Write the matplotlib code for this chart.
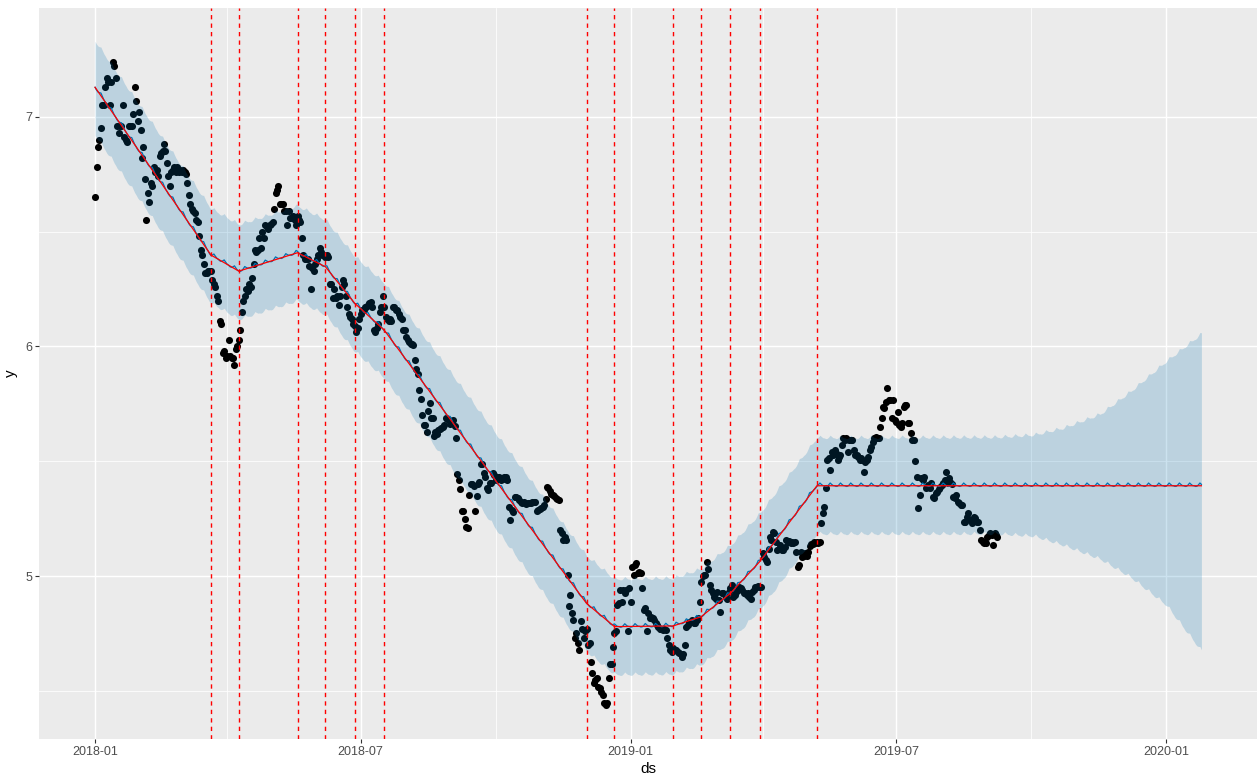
import numpy as np
import pandas as pd
import matplotlib
matplotlib.use("Agg")
import matplotlib.pyplot as plt
import matplotlib.dates as mdates

plt.rcParams['font.family'] = ['Liberation Sans', 'DejaVu Sans']

# ---------------- data ----------------
history_start = "2018-01-01"
forecast_end = "2020-01-25"

# observed daily values (log price), one per day from history_start
y_hist = [
    6.65, 6.78, 6.87, 6.90, 6.95, 7.05, 7.05, 7.13, 7.17, 7.15,
    7.05, 7.15, 7.24, 7.22, 7.17, 6.96, 6.93, 6.96, 6.96, 7.05,
    6.91, 6.90, 6.89, 6.96, 6.96, 6.96, 7.01, 7.13, 7.07, 6.98,
    7.02, 6.94, 6.82, 6.87, 6.73, 6.55, 6.67, 6.63, 6.71, 6.70,
    6.78, 6.76, 6.77, 6.74, 6.83, 6.84, 6.85, 6.88, 6.85, 6.80,
    6.74, 6.70, 6.76, 6.77, 6.78, 6.76, 6.78, 6.76, 6.77, 6.76,
    6.77, 6.76, 6.75, 6.71, 6.66, 6.62, 6.60, 6.59, 6.58, 6.55,
    6.54, 6.48, 6.42, 6.40, 6.36, 6.32, 6.32, 6.33, 6.33, 6.33,
    6.29, 6.27, 6.26, 6.22, 6.20, 6.11, 6.10, 5.97, 5.98, 5.95,
    5.96, 6.03, 5.96, 5.95, 5.95, 5.92, 5.99, 6.00, 6.03, 6.07,
    6.15, 6.20, 6.22, 6.25, 6.24, 6.27, 6.26, 6.30, 6.36, 6.42,
    6.41, 6.42, 6.47, 6.43, 6.50, 6.47, 6.53, 6.52, 6.51, 6.53,
    6.535, 6.54, 6.60, 6.67, 6.68, 6.70, 6.62, 6.62, 6.62, 6.59,
    6.59, 6.53, 6.59, 6.56, 6.56, 6.57, 6.55, 6.53, 6.57, 6.55,
    6.54, 6.47, 6.40, 6.38, 6.38, 6.38, 6.35, 6.25, 6.34, 6.33,
    6.36, 6.38, 6.40, 6.43, 6.41, 6.40, 6.40, 6.39, 6.40, 6.39,
    6.27, 6.27, 6.21, 6.25, 6.21, 6.22, 6.18, 6.22, 6.26, 6.29,
    6.27, 6.22, 6.17, 6.14, 6.13, 6.12, 6.10, 6.09, 6.065, 6.08,
    6.12, 6.14, 6.16, 6.16, 6.17, 6.17, 6.18, 6.19, 6.195, 6.17,
    6.07, 6.065, 6.08, 6.10, 6.15, 6.17, 6.22, 6.17, 6.13, 6.12,
    6.11, 6.12, 6.11, 6.17, 6.17, 6.16, 6.16, 6.14, 6.13, 6.12,
    6.07, 6.07, 6.04, 6.03, 6.02, 6.01, 6.01, 6.005, 5.94, 5.90,
    5.88, 5.81, 5.77, 5.70, 5.66, 5.66, 5.63, 5.72, 5.756, 5.69,
    5.69, 5.61, 5.63, 5.62, 5.637, 5.64, 5.644, 5.651, 5.66, 5.687,
    5.683, 5.68, 5.663, 5.67, 5.68, 5.654, 5.60, 5.445, 5.42, 5.38,
    5.285, 5.285, 5.25, 5.216, 5.21, 5.354, 5.40, 5.40, 5.393, 5.285,
    5.35, 5.40, 5.41, 5.49, 5.49, 5.45, 5.434, 5.383, 5.376, 5.404,
    5.407, 5.448, 5.44, 5.42, 5.43, 5.43, 5.426, 5.42, 5.422, 5.43,
    5.434, 5.42, 5.30, 5.245, 5.29, 5.28, 5.347, 5.345, 5.34, 5.33,
    5.325, 5.318, 5.325, 5.32, 5.315, 5.318, 5.318, 5.32, 5.325, 5.325,
    5.325, 5.286, 5.29, 5.291, 5.296, 5.30, 5.31, 5.335, 5.39, 5.386,
    5.37, 5.36, 5.354, 5.35, 5.34, 5.335, 5.332, 5.20, 5.19, 5.16,
    5.17, 5.16, 5.006, 4.87, 4.92, 4.84, 4.81, 4.73, 4.755, 4.71,
    4.68, 4.807, 4.77, 4.73, 4.76, 4.77, 4.70, 4.71, 4.629, 4.58,
    4.534, 4.55, 4.556, 4.52, 4.513, 4.498, 4.484, 4.447, 4.44, 4.447,
    4.556, 4.62, 4.62, 4.694, 4.755, 4.76, 4.875, 4.882, 4.94, 4.89,
    4.94, 4.926, 4.94, 4.76, 4.948, 4.89, 5.04, 5.006, 5.05, 5.057,
    5.013, 5.02, 5.013, 4.95, 4.853, 4.86, 4.76, 4.84, 4.817, 4.824,
    4.817, 4.81, 4.795, 4.788, 4.78, 4.77, 4.77, 4.766, 4.77, 4.766,
    4.73, 4.70, 4.68, 4.672, 4.686, 4.68, 4.68, 4.672, 4.665, 4.66,
    4.65, 4.66, 4.70, 4.78, 4.788, 4.80, 4.80, 4.81, 4.795, 4.795,
    4.81, 4.817, 4.89, 4.976, 5.0, 5.005, 5.005, 5.064, 5.03, 4.96,
    4.94, 4.926, 4.91, 4.90, 4.93, 4.897, 4.846, 4.926, 4.926, 4.92,
    4.91, 4.90, 4.93, 4.95, 4.96, 4.91, 4.92, 4.933, 4.94, 4.955,
    4.948, 4.94, 4.926, 4.926, 4.92, 4.926, 4.91, 4.90, 4.933, 4.94,
    4.955, 4.955, 4.958, 4.955, 4.952, 5.10, 5.085, 5.07, 5.064, 5.12,
    5.172, 5.158, 5.194, 5.187, 5.15, 5.114, 5.12, 5.136, 5.114, 5.114,
    5.129, 5.158, 5.15, 5.155, 5.143, 5.15, 5.143, 5.15, 5.107, 5.042,
    5.05, 5.107, 5.085, 5.09, 5.10, 5.09, 5.107, 5.13, 5.14, 5.14,
    5.15, 5.143, 5.15, 5.146, 5.15, 5.23, 5.274, 5.30, 5.383, 5.506,
    5.513, 5.463, 5.542, 5.528, 5.55, 5.535, 5.506, 5.52, 5.528, 5.57,
    5.60, 5.593, 5.60, 5.542, 5.593, 5.593, 5.593, 5.55, 5.528, 5.528,
    5.52, 5.506, 5.513, 5.506, 5.455, 5.498, 5.506, 5.52, 5.55, 5.564,
    5.586, 5.60, 5.608, 5.60, 5.60, 5.65, 5.688, 5.738, 5.731, 5.76,
    5.818, 5.767, 5.767, 5.688, 5.767, 5.68, 5.673, 5.716, 5.658, 5.65,
    5.666, 5.738, 5.745, 5.745, 5.666, 5.669, 5.622, 5.593, 5.593, 5.50,
    5.434, 5.296, 5.354, 5.426, 5.419, 5.434, 5.383, 5.39, 5.397, 5.383,
    5.405, 5.347, 5.34, 5.361, 5.368, 5.38, 5.39, 5.397, 5.405, 5.419,
    5.455, 5.405, 5.426, 5.412, 5.40, 5.347, 5.34, 5.354, 5.325, 5.32,
    5.31, 5.31, 5.238, 5.238, 5.26, 5.274, 5.245, 5.245, 5.23, 5.26,
    5.252, 5.238, 5.238, 5.20, 5.158, 5.15, 5.143, 5.143, 5.172, 5.18,
    5.187, 5.18, 5.136, 5.187, 5.18, 5.17,
]

# significant changepoints (dashed red lines)
changepoints = ["2018-03-21", "2018-04-09", "2018-05-19", "2018-06-07",
                "2018-06-27", "2018-07-17", "2018-12-02", "2018-12-21",
                "2019-01-30", "2019-02-18", "2019-03-10", "2019-03-30",
                "2019-05-08"]

# piecewise-linear trend: knots at start, changepoints, end
trend_dates = [history_start] + changepoints + [forecast_end]
trend_vals = [7.128, 6.398, 6.328, 6.408, 6.347, 6.188, 6.072,
              4.882, 4.781, 4.784, 4.824, 4.926, 5.064, 5.394, 5.394]

# weekly seasonal effect, Monday..Sunday
weekly_effect = [0.0, -0.003, -0.002, 0.004, 0.012, 0.006, 0.001]

# uncertainty half-widths of the interval
band_dates = ["2018-01-01", "2019-09-08", "2019-10-03", "2019-10-23",
              "2019-11-17", "2019-12-08", "2020-01-01", "2020-01-25"]
band_upper = [0.20, 0.21, 0.22, 0.25, 0.31, 0.41, 0.54, 0.66]
band_lower = [0.21, 0.21, 0.22, 0.26, 0.32, 0.40, 0.52, 0.72]

x_breaks = ["2018-01-01", "2018-07-01", "2019-01-01", "2019-07-01", "2020-01-01"]
x_labels = ["2018-01", "2018-07", "2019-01", "2019-07", "2020-01"]
x_minor = ["2018-04-01", "2018-10-01", "2019-04-01", "2019-10-01"]
y_breaks = [5, 6, 7]
y_minor = [4.5, 5.5, 6.5]

# ---------------- build ----------------
hist_ds = pd.date_range(history_start, periods=len(y_hist), freq="D")
fc_ds = pd.date_range(history_start, forecast_end, freq="D")
t_fc = mdates.date2num(fc_ds.to_pydatetime())
t_trend = mdates.date2num(pd.to_datetime(trend_dates).to_pydatetime())
t_band = mdates.date2num(pd.to_datetime(band_dates).to_pydatetime())

trend_daily = np.interp(t_fc, t_trend, trend_vals)
yhat = trend_daily + np.array(weekly_effect)[fc_ds.dayofweek.values]
yhat_upper = yhat + np.interp(t_fc, t_band, band_upper)
yhat_lower = yhat - np.interp(t_fc, t_band, band_lower)

W, H = 1259, 779
fig = plt.figure(figsize=(W / 100, H / 100), dpi=100)
ax = fig.add_axes([39 / W, 1 - 739 / H, (1257 - 39) / W, (739 - 8) / H])
ax.set_facecolor("#EBEBEB")
for s in ax.spines.values():
    s.set_visible(False)

# grid
for xm in pd.to_datetime(x_minor):
    ax.axvline(xm, color="white", lw=0.55, zorder=0)
for ym in y_minor:
    ax.axhline(ym, color="white", lw=0.55, zorder=0)
for xb in pd.to_datetime(x_breaks):
    ax.axvline(xb, color="white", lw=1.05, zorder=0)
for yb in y_breaks:
    ax.axhline(yb, color="white", lw=1.05, zorder=0)

ax.scatter(hist_ds, y_hist, s=26, color="black", linewidths=0, zorder=2)
ax.plot(fc_ds, yhat, color="#0072B2", lw=0.9, zorder=3)
ax.fill_between(fc_ds, yhat_lower, yhat_upper, color="#0072B2", alpha=0.2,
                linewidth=0, zorder=4)
ax.plot(pd.to_datetime(trend_dates), trend_vals, color="red", lw=0.9, zorder=5)
for cp in pd.to_datetime(changepoints):
    ax.axvline(cp, color="red", lw=1.0, dashes=(3.1, 3.0), zorder=6)

t0 = mdates.date2num(pd.Timestamp(history_start).to_pydatetime())
ax.set_xlim(t0 - 38.2, t0 + 791.9)
ax.set_ylim(4.292, 7.473)

ax.set_xticks(pd.to_datetime(x_breaks))
ax.set_xticklabels(x_labels)
ax.set_yticks(y_breaks)
ax.set_yticklabels([str(v) for v in y_breaks])
ax.tick_params(axis="both", which="major", length=2.8, width=0.8,
               color="#333333", labelcolor="#4D4D4D", labelsize=9, pad=2.2)
ax.set_xlabel("ds", fontsize=11, color="black", labelpad=3)
ax.set_ylabel("y", fontsize=11, color="black", labelpad=5)

fig.savefig("out.png", dpi=100)
